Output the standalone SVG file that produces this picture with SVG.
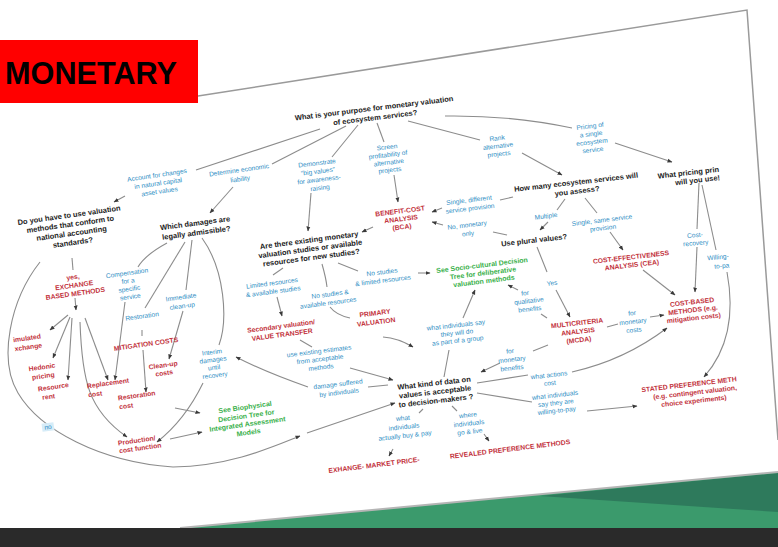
<svg xmlns="http://www.w3.org/2000/svg" width="778" height="547" viewBox="0 0 778 547">
<defs>
<marker id="ah" viewBox="0 0 10 10" refX="9" refY="5" markerWidth="5" markerHeight="5" markerUnits="userSpaceOnUse" orient="auto"><path d="M0,1 L10,5 L0,9 z" fill="#3a3a3a"/></marker>
<style>
text{font-family:"Liberation Sans",Arial,sans-serif;text-anchor:middle}
.q{font-size:7.5px;font-weight:bold;fill:#222}
.b{font-size:6.6px;fill:#2e8ec4}
.r{font-size:6.8px;font-weight:bold;fill:#c2313b}
.g{font-size:7px;font-weight:bold;fill:#38b04a}
.s{text-anchor:start}
.e{text-anchor:end}
.c path{fill:none;stroke:#8c8c8c;stroke-width:1.1}
.c path.a{marker-end:url(#ah)}
</style>
</defs>
<rect width="778" height="547" fill="#ffffff"/>
<g id="background">
<polygon points="180,528 778,472 778,528" fill="#3b9a6c"/>
<polygon points="540,496 778,473 778,512" fill="#2e7a5c"/>
<line x1="180" y1="528" x2="778" y2="472" stroke="#b5b5b5" stroke-width="2"/>
<rect x="0" y="528" width="778" height="19" fill="#2a2a2a"/>
<polyline points="198,96 747,10 778,440" fill="none" stroke="#9a9a9a" stroke-width="1.5"/>
</g>
<g id="title">
<rect x="0" y="40" width="198" height="63" fill="#ff0000"/>
<text x="5" y="84" style="text-anchor:start;font-size:31px;font-weight:bold;fill:#000" textLength="172" lengthAdjust="spacingAndGlyphs">MONETARY</text>
</g>
<g class="c" id="connectors">
<path d="M320,129 L196,170"/>
<path d="M346,126 L272,164"/>
<path d="M358,125 L332,157"/>
<path d="M377,123 L384,142"/>
<path d="M408,121 L480,140"/>
<path d="M445,116 Q510,115 572,128"/>
<path class="a" d="M125,196 L114,202"/>
<path class="a" d="M233,187 L210,213"/>
<path class="a" d="M311,193 L308,231"/>
<path class="a" d="M394,175 L398,202"/>
<path class="a" d="M373,227 L362,232"/>
<path class="a" d="M522,153 L562,175"/>
<path class="a" d="M615,143 L672,162"/>
<path d="M513,197 L500,200"/>
<path class="a" d="M442,208 L432,212"/>
<path d="M507,235 L493,232"/>
<path class="a" d="M443,225 L432,222"/>
<path d="M565,199 L557,210"/>
<path class="a" d="M548,222 L540,230"/>
<path d="M585,198 L597,213"/>
<path class="a" d="M610,232 L623,250"/>
<path d="M699,183 L697,229"/>
<path class="a" d="M697,247 L695,292"/>
<path d="M702,185 L716,250"/>
<path class="a" d="M727,272 C735,315 728,350 704,377"/>
<path class="a" d="M643,270 L675,295"/>
<path d="M537,247 L547,272"/>
<path class="a" d="M556,290 L570,317"/>
<path d="M547,318 L541,314"/>
<path class="a" d="M518,290 L508,285"/>
<path d="M607,327 L618,324"/>
<path class="a" d="M650,317 L664,315"/>
<path d="M548,345 L533,351"/>
<path class="a" d="M500,363 L481,372"/>
<path d="M477,383 L528,375"/>
<path class="a" d="M572,372 Q625,360 667,328"/>
<path d="M477,393 L532,402"/>
<path class="a" d="M587,411 L637,406"/>
<path d="M423,409 L419,413"/>
<path class="a" d="M393,449 L389,456"/>
<path d="M452,406 L457,411"/>
<path class="a" d="M484,434 L489,441"/>
<path d="M444,377 L449,350"/>
<path class="a" d="M463,318 L475,290"/>
<path class="a" d="M418,273 L430,273"/>
<path d="M338,263 L358,271"/>
<path d="M283,268 L273,275"/>
<path class="a" d="M277,297 L282,316"/>
<path d="M322,264 Q326,278 327,287"/>
<path d="M330,307 Q336,315 350,318"/>
<path d="M300,340 L312,347"/>
<path class="a" d="M350,368 L393,380"/>
<path class="a" d="M383,337 Q398,338 413,347"/>
<path d="M368,387 L388,385"/>
<path class="a" d="M308,387 Q265,372 236,357"/>
<path d="M167,243 Q145,255 138,267"/>
<path d="M185,242 L145,308"/>
<path d="M192,240 L186,290"/>
<path d="M202,238 C225,270 228,320 219,345"/>
<path class="a" d="M183,311 L169,359"/>
<path d="M142,330 L142,336"/>
<path class="a" d="M143,350 L146,392"/>
<path class="a" d="M125,302 L115,380"/>
<path d="M72,258 L73,270"/>
<path class="a" d="M75,298 L76,310"/>
<path class="a" d="M68,315 L50,330"/>
<path class="a" d="M70,317 L53,358"/>
<path class="a" d="M72,318 L68,380"/>
<path class="a" d="M85,318 L108,380"/>
<path class="a" d="M80,322 C82,380 88,410 127,437"/>
<path class="a" d="M40,262 C10,300 -2,360 18,393 C40,430 100,462 173,467 C230,466 270,448 300,436"/>
<path class="a" d="M307,433 L395,403"/>
<path class="a" d="M175,408 L200,413"/>
<path class="a" d="M170,439 L202,432"/>
<path class="a" d="M203,383 Q185,420 157,442"/>
</g>
<g id="q1" transform="translate(374,108) rotate(-7)"><text class="q"><tspan x="0" y="2.7">What is your purpose for monetary valuation</tspan><tspan x="0" y="12.2">of ecosystem services?</tspan></text></g>
<g id="q2" transform="translate(69,215) rotate(-8)"><text class="q"><tspan x="0" y="2.7">Do you have to use valuation</tspan><tspan x="0" y="11.9">methods that conform to</tspan><tspan x="0" y="21.1">national accounting</tspan><tspan x="0" y="30.3">standards?</tspan></text></g>
<g id="q3" transform="translate(195,223) rotate(-7.5)"><text class="q"><tspan x="0" y="2.7">Which damages are</tspan><tspan x="0" y="12.4">legally admissible?</tspan></text></g>
<g id="q4" transform="translate(309,240) rotate(-7.5)"><text class="q"><tspan x="0" y="2.7">Are there existing monetary</tspan><tspan x="0" y="11.5">valuation studies or available</tspan><tspan x="0" y="20.3">resources for new studies?</tspan></text></g>
<g id="q5" transform="translate(576,182) rotate(-6.5)"><text class="q"><tspan x="0" y="2.7">How many ecosystem services will</tspan><tspan x="0" y="11.7">you assess?</tspan></text></g>
<g id="q6" transform="translate(534,240) rotate(-6.5)"><text class="q" y="2.7">Use plural values?</text></g>
<g id="q7" transform="translate(719,169) rotate(-6.5)"><text class="q e"><tspan x="0" y="2.7">What pricing prin</tspan><tspan x="0" y="11.2">will you use!</tspan></text></g>
<g id="q8" transform="translate(434,383) rotate(-6.5)"><text class="q"><tspan x="0" y="2.7">What kind of data on</tspan><tspan x="0" y="11.5">values is acceptable</tspan><tspan x="0" y="20.3">to decision-makers ?</tspan></text></g>
<g id="b_acc" transform="translate(157,175) rotate(-8.5)"><text class="b"><tspan x="0" y="2.3">Account for changes</tspan><tspan x="0" y="10.6">in natural capital</tspan><tspan x="0" y="18.9">asset values</tspan></text></g>
<g id="b_det" transform="translate(239,170) rotate(-8)"><text class="b"><tspan x="0" y="2.3">Determine economic</tspan><tspan x="0" y="11.3">liability</tspan></text></g>
<g id="b_dem" transform="translate(317,163) rotate(-7)"><text class="b"><tspan x="0" y="2.3">Demonstrate</tspan><tspan x="0" y="10.6">“big values”</tspan><tspan x="0" y="18.9">for awareness-</tspan><tspan x="0" y="27.2">raising</tspan></text></g>
<g id="b_scr" transform="translate(387,147) rotate(-7)"><text class="b"><tspan x="0" y="2.3">Screen</tspan><tspan x="0" y="10">profitability of</tspan><tspan x="0" y="17.7">alternative</tspan><tspan x="0" y="25.4">projects</tspan></text></g>
<g id="b_rank" transform="translate(497,138) rotate(-7)"><text class="b"><tspan x="0" y="2.3">Rank</tspan><tspan x="0" y="10.3">alternative</tspan><tspan x="0" y="18.3">projects</tspan></text></g>
<g id="b_pric" transform="translate(590,126) rotate(-7)"><text class="b"><tspan x="0" y="2.3">Pricing of</tspan><tspan x="0" y="10.3">a single</tspan><tspan x="0" y="18.3">ecosystem</tspan><tspan x="0" y="26.3">service</tspan></text></g>
<g id="b_sd" transform="translate(469,200) rotate(-7)"><text class="b"><tspan x="0" y="2.3">Single, different</tspan><tspan x="0" y="10.8">service provision</tspan></text></g>
<g id="b_nm" transform="translate(467,225) rotate(-7)"><text class="b"><tspan x="0" y="2.3">No, monetary</tspan><tspan x="0" y="10.8">only</tspan></text></g>
<g id="b_mul" transform="translate(546,216) rotate(-7)"><text class="b" y="2.3">Multiple</text></g>
<g id="b_ss" transform="translate(602,220) rotate(-7)"><text class="b"><tspan x="0" y="2.3">Single, same service</tspan><tspan x="0" y="10.3">provision</tspan></text></g>
<g id="b_cr" transform="translate(695,235) rotate(-5)"><text class="b"><tspan x="0" y="2.3">Cost-</tspan><tspan x="0" y="10.3">recovery</tspan></text></g>
<g id="b_wtp" transform="translate(718,257) rotate(-5)"><text class="b"><tspan x="0" y="2.3">Willing-</tspan><tspan x="3" y="11.3">to-pa</tspan></text></g>
<g id="b_nsl" transform="translate(382,272) rotate(-7)"><text class="b"><tspan x="0" y="2.3">No studies</tspan><tspan x="0" y="10.8">&amp; limited resources</tspan></text></g>
<g id="b_lr" transform="translate(272,283) rotate(-7.5)"><text class="b"><tspan x="0" y="2.3">Limited resources</tspan><tspan x="0" y="10.8">&amp; available studies</tspan></text></g>
<g id="b_nsa" transform="translate(330,294) rotate(-7.5)"><text class="b"><tspan x="0" y="2.3">No studies &amp;</tspan><tspan x="-3" y="10.8">available resources</tspan></text></g>
<g id="b_use" transform="translate(319,351) rotate(-7)"><text class="b"><tspan x="0" y="2.3">use existing estimates</tspan><tspan x="0" y="10.5">from acceptable</tspan><tspan x="0" y="18.7">methods</tspan></text></g>
<g id="b_dmg" transform="translate(338,384) rotate(-7)"><text class="b"><tspan x="0" y="2.3">damage suffered</tspan><tspan x="0" y="10.8">by individuals</tspan></text></g>
<g id="b_say" transform="translate(456,325) rotate(-6.5)"><text class="b"><tspan x="0" y="2.3">what individuals say</tspan><tspan x="0" y="10.1">they will do</tspan><tspan x="0" y="17.9">as part of a group</tspan></text></g>
<g id="b_fq" transform="translate(525,293) rotate(-6.5)"><text class="b"><tspan x="0" y="2.3">for</tspan><tspan x="3" y="10.5">qualitative</tspan><tspan x="3" y="18.7">benefits</tspan></text></g>
<g id="b_yes" transform="translate(552,283) rotate(-6.5)"><text class="b" y="2.3">Yes</text></g>
<g id="b_fmc" transform="translate(632,313) rotate(-6.5)"><text class="b"><tspan x="0" y="2.3">for</tspan><tspan x="0" y="10.8">monetary</tspan><tspan x="0" y="19.3">costs</tspan></text></g>
<g id="b_fmb" transform="translate(510,351) rotate(-6.5)"><text class="b"><tspan x="0" y="2.3">for</tspan><tspan x="1" y="10.8">monetary</tspan><tspan x="0" y="19.3">benefits</tspan></text></g>
<g id="b_wac" transform="translate(549,375) rotate(-6.5)"><text class="b"><tspan x="0" y="2.3">what actions</tspan><tspan x="0" y="10.3">cost</tspan></text></g>
<g id="b_wtp2" transform="translate(555,395) rotate(-6.5)"><text class="b"><tspan x="0" y="2.3">what individuals</tspan><tspan x="0" y="10.1">say they are</tspan><tspan x="0" y="17.9">willing-to-pay</tspan></text></g>
<g id="b_buy" transform="translate(403,418) rotate(-6.5)"><text class="b"><tspan x="0" y="2.3">what</tspan><tspan x="0" y="11.1">individuals</tspan><tspan x="0" y="19.9">actually buy &amp; pay</tspan></text></g>
<g id="b_live" transform="translate(468,415) rotate(-6.5)"><text class="b"><tspan x="0" y="2.3">where</tspan><tspan x="0" y="10.6">individuals</tspan><tspan x="0" y="18.9">go &amp; live</tspan></text></g>
<g id="b_comp" transform="translate(127,273) rotate(-8)"><text class="b"><tspan x="0" y="2.3">Compensation</tspan><tspan x="0" y="10.3">for a</tspan><tspan x="0" y="18.3">specific</tspan><tspan x="0" y="26.3">service</tspan></text></g>
<g id="b_rest" transform="translate(142,316) rotate(-8)"><text class="b" y="2.3">Restoration</text></g>
<g id="b_imm" transform="translate(181,297) rotate(-8)"><text class="b"><tspan x="0" y="2.3">Immediate</tspan><tspan x="0" y="11.3">clean-up</tspan></text></g>
<g id="b_int" transform="translate(212,352) rotate(-7.5)"><text class="b"><tspan x="0" y="2.3">Interim</tspan><tspan x="0" y="10.1">damages</tspan><tspan x="0" y="17.9">until</tspan><tspan x="0" y="25.7">recovery</tspan></text></g>
<g id="b_no" transform="translate(48,427) rotate(-8)"><rect x="-6" y="-4" width="12" height="8" fill="#d6ecf8"/><text class="b" y="2.3">no</text></g>
<g id="r_bca" transform="translate(400,211) rotate(-7)"><text class="r"><tspan x="0" y="2.4">BENEFIT-COST</tspan><tspan x="0" y="10.4">ANALYSIS</tspan><tspan x="0" y="18.4">(BCA)</tspan></text></g>
<g id="r_cea" transform="translate(631,257) rotate(-6.5)"><text class="r"><tspan x="0" y="2.4">COST-EFFECTIVENESS</tspan><tspan x="0" y="10.4">ANALYSIS (CEA)</tspan></text></g>
<g id="r_cbm" transform="translate(692,302) rotate(-6.5)"><text class="r"><tspan x="0" y="2.4">COST-BASED</tspan><tspan x="0" y="10.4">METHODS (e.g.</tspan><tspan x="0" y="18.4">mitigation costs)</tspan></text></g>
<g id="r_mcda" transform="translate(577,323) rotate(-6.5)"><text class="r"><tspan x="0" y="2.4">MULTICRITERIA</tspan><tspan x="0" y="10.9">ANALYSIS</tspan><tspan x="0" y="19.4">(MCDA)</tspan></text></g>
<g id="r_spm" transform="translate(692,384) rotate(-6.5)"><text class="r"><tspan x="-3" y="2.4">STATED PREFERENCE METH</tspan><tspan x="2" y="10.9">(e.g. contingent valuation,</tspan><tspan x="0" y="19.4">choice experiments)</tspan></text></g>
<g id="r_sec" transform="translate(281,326) rotate(-7.5)"><text class="r"><tspan x="0" y="2.4">Secondary valuation/</tspan><tspan x="0" y="11">VALUE TRANSFER</tspan></text></g>
<g id="r_prim" transform="translate(375,313) rotate(-7)"><text class="r"><tspan x="0" y="2.4">PRIMARY</tspan><tspan x="0" y="11.4">VALUATION</tspan></text></g>
<g id="r_mit" transform="translate(146,344) rotate(-8)"><text class="r" y="2.4">MITIGATION COSTS</text></g>
<g id="r_yes" transform="translate(73,277) rotate(-8)"><text class="r"><tspan x="0" y="2.4">yes,</tspan><tspan x="0" y="10.7">EXCHANGE</tspan><tspan x="0" y="19">BASED METHODS</tspan></text></g>
<g id="r_sim" transform="translate(27,338) rotate(-8)"><text class="r"><tspan x="0" y="2.4">imulated</tspan><tspan x="0" y="11.4">xchange</tspan></text></g>
<g id="r_hed" transform="translate(42,367) rotate(-8)"><text class="r"><tspan x="0" y="2.4">Hedonic</tspan><tspan x="0" y="11.4">pricing</tspan></text></g>
<g id="r_res" transform="translate(38,389) rotate(-8)"><text class="r s"><tspan x="0" y="2.4">Resource</tspan><tspan x="3" y="11.4">rent</tspan></text></g>
<g id="r_rep" transform="translate(87,386) rotate(-8)"><text class="r s"><tspan x="0" y="2.4">Replacement</tspan><tspan x="0" y="11.4">cost</tspan></text></g>
<g id="r_rc" transform="translate(118,398) rotate(-8)"><text class="r s"><tspan x="0" y="2.4">Restoration</tspan><tspan x="0" y="11.4">cost</tspan></text></g>
<g id="r_clean" transform="translate(163,365) rotate(-8)"><text class="r"><tspan x="0" y="2.4">Clean-up</tspan><tspan x="0" y="10.4">costs</tspan></text></g>
<g id="r_prod" transform="translate(118,443) rotate(-8)"><text class="r s"><tspan x="0" y="2.4">Production/</tspan><tspan x="0" y="10.4">cost function</tspan></text></g>
<g id="r_exh" transform="translate(374,465) rotate(-7)"><text class="r" y="2.4">EXHANGE- MARKET PRICE-</text></g>
<g id="r_rev" transform="translate(510,449) rotate(-7)"><text class="r" y="2.4">REVEALED PREFERENCE METHODS</text></g>
<g id="g_soc" transform="translate(482,265) rotate(-7)"><text class="g"><tspan x="0" y="2.5">See Socio-cultural Decision</tspan><tspan x="0" y="10.5">Tree for deliberative</tspan><tspan x="0" y="18.5">valuation methods</tspan></text></g>
<g id="g_bio" transform="translate(245,407) rotate(-8)"><text class="g"><tspan x="0" y="2.5">See Biophysical</tspan><tspan x="0" y="11.3">Decision Tree for</tspan><tspan x="0" y="19.6">Integrated Assessment</tspan><tspan x="0" y="28">Models</tspan></text></g>
</svg>
